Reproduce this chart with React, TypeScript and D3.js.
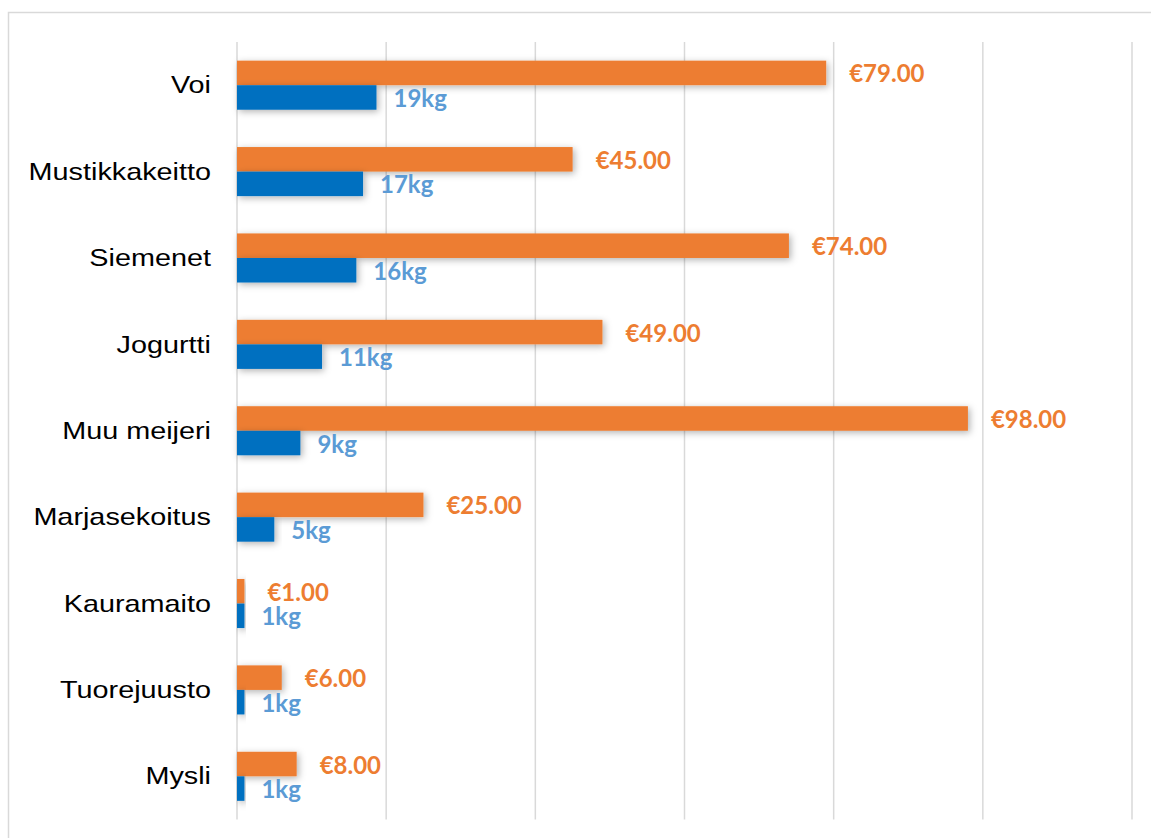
import React from "react";
import * as d3 from "d3";

const categories = ["Voi", "Mustikkakeitto", "Siemenet", "Jogurtti", "Muu meijeri", "Marjasekoitus", "Kauramaito", "Tuorejuusto", "Mysli"];
const priceValues = [79, 45, 74, 49, 98, 25, 1, 6, 8];
const weightValues = [18.7, 16.9, 16, 11.4, 8.5, 5, 1, 1, 1];
const xTicks = [0, 20, 40, 60, 80, 100, 120];

const W = 1151;
const H = 838;
const plot = { left: 237, right: 1132, top: 42, bottom: 819.5 };
const ORANGE = "#ED7D31";
const BLUE = "#0070C0";
const BLUE_LABEL = "#5B9BD5";

export default function App() {
  const x = d3.scaleLinear().domain([0, 120]).range([plot.left, plot.right]);
  const y = d3.scaleBand<string>().domain(categories).range([plot.top, plot.bottom]).padding(0);
  const step = y.step();
  const barH = step * 0.284;

  return (
    <svg width={W} height={H} style={{ position: "absolute", left: 0, top: 0, display: "block", background: "#fff" }}>
      <defs>
        <filter id="shadow" x="-10%" y="-60%" width="130%" height="220%">
          <feDropShadow dx="2" dy="2" stdDeviation="3.5" floodColor="#000" floodOpacity="0.3" />
        </filter>
      </defs>
      <rect x={8.5} y={12.5} width={W + 20} height={H + 20} fill="#fff" stroke="#d9d9d9" strokeWidth={1.5} />
      {xTicks.map((t) => (
        <line key={t} x1={x(t)} x2={x(t)} y1={plot.top} y2={plot.bottom} stroke="#d9d9d9" strokeWidth={1.5} />
      ))}
      {categories.map((c, i) => {
        const cy = (y(c) as number) + step / 2;
        return (
          <g key={c}>
            <rect x={x(0)} y={cy - barH} width={x(priceValues[i]) - x(0)} height={barH} fill={ORANGE} filter="url(#shadow)" />
            <rect x={x(0)} y={cy} width={x(weightValues[i]) - x(0)} height={barH} fill={BLUE} filter="url(#shadow)" />
          </g>
        );
      })}
      {categories.map((c, i) => {
        const cy = (y(c) as number) + step / 2;
        return (
          <g key={c + "-t"}>
            <text
              transform={`translate(211,${cy}) scale(1.2,1)`}
              textAnchor="end"
              dominantBaseline="central"
              fontFamily="Liberation Sans, Arial, sans-serif"
              fontSize={24}
              fill="#000"
            >
              {c}
            </text>
            <text
              x={x(priceValues[i]) + 23}
              y={cy - barH / 2}
              dominantBaseline="central"
              fontFamily="Lato, sans-serif"
              fontWeight="bold"
              fontSize={24}
              fill={ORANGE}
            >
              {"€" + d3.format(".2f")(priceValues[i])}
            </text>
            <text
              x={x(weightValues[i]) + 17}
              y={cy + barH / 2}
              dominantBaseline="central"
              fontFamily="Lato, sans-serif"
              fontWeight="bold"
              fontSize={24}
              fill={BLUE_LABEL}
            >
              {Math.round(weightValues[i]) + "kg"}
            </text>
          </g>
        );
      })}
    </svg>
  );
}
